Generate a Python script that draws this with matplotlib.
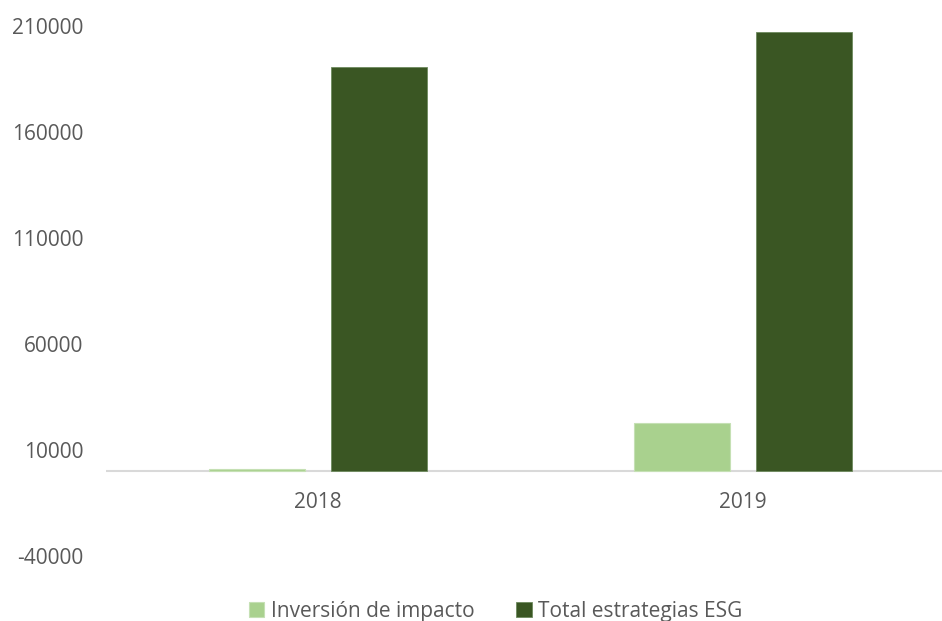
import matplotlib
matplotlib.use("Agg")
import matplotlib.pyplot as plt
import numpy as np

categories = ["2018", "2019"]
series_names = ["Inversión de impacto", "Total estrategias ESG"]
impacto = [900, 22500]
total_esg = [190700, 206900]
y_ticks = [-40000, 10000, 60000, 110000, 160000, 210000]

plt.rcParams['font.family'] = ['Open Sans', 'DejaVu Sans']
text_color = '#595959'
light = '#A9D18E'
dark = '#3A5623'
fs = 15

W, H = 942, 621
fig = plt.figure(figsize=(W / 100, H / 100), dpi=100)
left_px, plot_w = 105.5, 850
top_px, bot_px = 25.8, 555.8
ax = fig.add_axes([left_px / W, (H - bot_px) / H, plot_w / W, (bot_px - top_px) / H])

x = np.arange(len(categories))
bw = 0.226
gap = 0.06
off = (bw + gap) / 2
ax.bar(x - off, impacto, bw, color=light, edgecolor='#C5E0B4', linewidth=0.8,
       label=series_names[0], zorder=3)
ax.bar(x + off, total_esg, bw, color=dark, edgecolor='#6E8A5E', linewidth=0.6,
       label=series_names[1], zorder=3)

ax.set_xlim(-0.5, 1.5)
ax.set_ylim(-40000, 210000)
ax.set_yticks(y_ticks)
ax.set_yticklabels([str(v) for v in y_ticks])
ax.axhline(0, color='#D9D9D9', linewidth=1.5, zorder=2)

for s in ax.spines.values():
    s.set_visible(False)
ax.tick_params(axis='y', length=0, pad=16, labelsize=fs, labelcolor=text_color)
ax.set_xticks([])

for xi, c in zip(x, categories):
    xf = (left_px + (xi + 0.5) / 2.0 * plot_w) / W
    fig.text(xf, 1 - 503 / H, c, ha='center', va='center', fontsize=fs, color=text_color)

handles, labels = ax.get_legend_handles_labels()
leg = fig.legend(handles, labels, loc='center', bbox_to_anchor=(495.5 / W, 1 - 611 / H),
                 ncol=2, frameon=False, fontsize=fs, handlelength=0.75, handleheight=0.75,
                 handletextpad=0.3, columnspacing=2.0, borderaxespad=0, borderpad=0)
for t in leg.get_texts():
    t.set_color(text_color)

fig.savefig("out.png", dpi=100)
